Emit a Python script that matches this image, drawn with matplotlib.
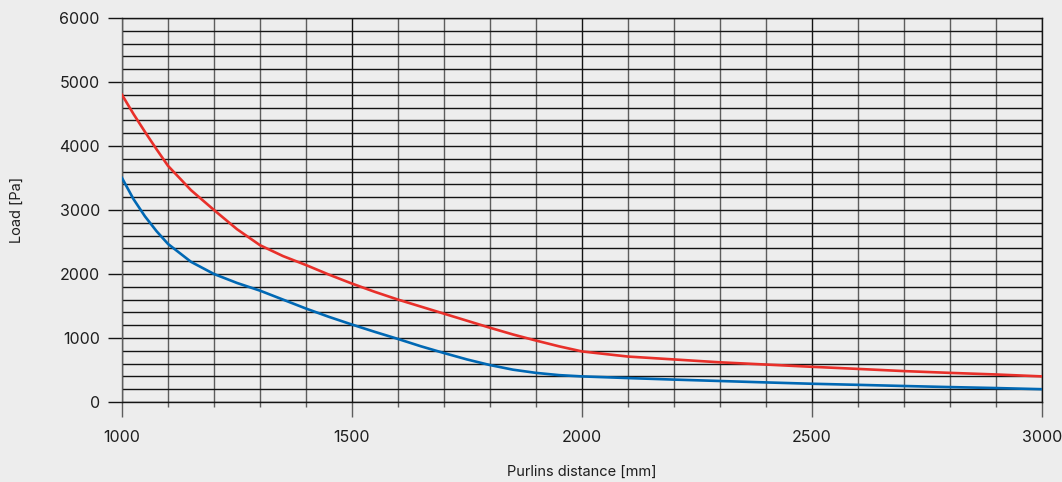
import matplotlib
matplotlib.use("Agg")
import matplotlib.pyplot as plt
from matplotlib.ticker import MultipleLocator

plt.rcParams["font.family"] = ["Inter", "DejaVu Sans"]

# purlins distance [mm]
distance = [1000, 1025, 1050, 1075, 1100, 1150, 1200, 1250, 1300, 1350, 1400, 1450,
            1500, 1550, 1600, 1650, 1700, 1750, 1800, 1850, 1900, 1950, 2000,
            2100, 2200, 2300, 2400, 2500, 2600, 2700, 2800, 2900, 3000]
# load [Pa]
load_red = [4800, 4500, 4220, 3950, 3690, 3310, 3000, 2700, 2450, 2280, 2140, 1990,
            1850, 1720, 1600, 1490, 1380, 1270, 1160, 1055, 960, 870, 790,
            710, 665, 620, 585, 550, 517, 483, 455, 430, 400]
load_blue = [3500, 3170, 2900, 2670, 2470, 2190, 2000, 1860, 1740, 1600, 1460, 1330,
             1210, 1095, 985, 870, 765, 665, 577, 505, 455, 420, 400,
             374, 350, 328, 306, 285, 268, 250, 233, 218, 200]

BG = "#ededed"
DARK = "#141414"
GRAY = "#5e5e5e"

fig = plt.figure(figsize=(10.62, 4.82), dpi=100, facecolor=BG)
ax = fig.add_axes([122 / 1062, 80 / 482, 920 / 1062, 384 / 482])
ax.set_facecolor(BG)

ax.plot(distance, load_red, color="#e8302a", lw=1.9, zorder=5, solid_joinstyle="round")
ax.plot(distance, load_blue, color="#0068b4", lw=1.9, zorder=5, solid_joinstyle="round")

ax.set_xlim(1000, 3000)
ax.set_ylim(0, 6000)
ax.xaxis.set_major_locator(MultipleLocator(500))
ax.xaxis.set_minor_locator(MultipleLocator(100))
ax.yaxis.set_major_locator(MultipleLocator(1000))
ax.yaxis.set_minor_locator(MultipleLocator(200))

ax.yaxis.grid(which="both", color=DARK, lw=1.0)
ax.xaxis.grid(which="minor", color=GRAY, lw=1.0)
ax.xaxis.grid(which="major", color=DARK, lw=1.0)
ax.set_axisbelow(True)

for side in ["top", "bottom", "right"]:
    ax.spines[side].set_color(DARK)
    ax.spines[side].set_linewidth(1.0)
ax.spines["left"].set_color(GRAY)
ax.spines["left"].set_linewidth(1.0)

ax.tick_params(axis="y", which="major", length=10, width=1.0, color=DARK, pad=6,
               labelsize=11.5, labelcolor="#1e1e1e")
ax.tick_params(axis="y", which="minor", length=0)
ax.tick_params(axis="x", which="major", length=11, width=1.0, color=GRAY, pad=9,
               labelsize=11.5, labelcolor="#1e1e1e")
ax.tick_params(axis="x", which="minor", length=3.6, width=1.0, color=GRAY)

fig.text(17 / 1062, 1 - 210 / 482, "Load [Pa]", rotation=90, ha="center", va="center",
         fontsize=10.5, color="#1e1e1e")
fig.text(582 / 1062, 1 - 472 / 482, "Purlins distance [mm]", ha="center", va="center",
         fontsize=10.5, color="#1e1e1e")

fig.savefig("out.png", dpi=100, facecolor=BG)
